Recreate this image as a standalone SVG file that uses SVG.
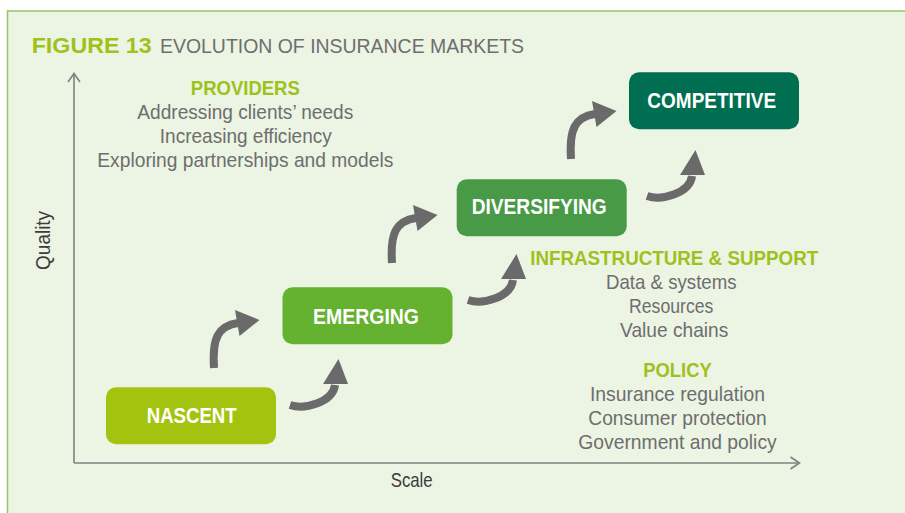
<svg xmlns="http://www.w3.org/2000/svg" width="905" height="513" viewBox="0 0 905 513">
<style>
.txt{font-family:"Liberation Sans",Arial,sans-serif}
.head{font-family:"Liberation Sans",Arial,sans-serif;font-weight:bold;fill:#9dc21b;font-size:21px;text-anchor:middle}
.body{font-family:"Liberation Sans",Arial,sans-serif;fill:#6e6e6e;font-size:21px;text-anchor:middle}
.axislbl{font-family:"Liberation Sans",Arial,sans-serif;fill:#3c3c3c;font-size:21px;text-anchor:middle}
.box text{font-family:"Liberation Sans",Arial,sans-serif;font-weight:bold;fill:#ffffff;font-size:22.5px;text-anchor:middle}
.axis{fill:none;stroke:#808080;stroke-width:1.6}
.shaft{fill:none;stroke:#6a6a6a;stroke-width:8}
.tip{fill:#6a6a6a}
</style>
<defs>
<g id="arrowUp">
<path class="shaft" d="M214,368 C212,338 218,326 238,323"/>
<polygon class="tip" points="235,310 239.5,336 259.5,320"/>
</g>
<g id="arrowLow">
<path class="shaft" d="M290,405 C305,410 333,402 335,385"/>
<polygon class="tip" points="323,384 348,384 338.5,359"/>
</g>
</defs>
<rect x="0" y="0" width="905" height="513" fill="#ffffff"/>
<rect x="7.5" y="11" width="900" height="505" fill="#ecf4e4"/>
<path d="M7.5,513 L7.5,11 L905,11" fill="none" stroke="#92c66a" stroke-width="1.5"/>

<g id="title">
<text class="txt" x="31.7" y="53" font-size="22" font-weight="bold" fill="#9dc21b" textLength="120" lengthAdjust="spacingAndGlyphs">FIGURE 13</text>
<text class="txt" x="160" y="53" font-size="21" fill="#6e6e6e" textLength="364" lengthAdjust="spacingAndGlyphs">EVOLUTION OF INSURANCE MARKETS</text>
</g>

<g id="axes">
<path class="axis" d="M74,463 L74,74"/>
<path class="axis" d="M68,82 L74,73.5 L80,82"/>
<path class="axis" d="M74,463 L799,463"/>
<path class="axis" d="M790.5,457 L799.5,463 L790.5,469"/>
<text class="axislbl" x="411.7" y="486.7" textLength="42" lengthAdjust="spacingAndGlyphs">Scale</text>
<text class="axislbl" transform="translate(50,240.4) rotate(-90)" textLength="59" lengthAdjust="spacingAndGlyphs">Quality</text>
</g>

<g id="providers">
<text class="head" x="245.3" y="95" textLength="109" lengthAdjust="spacingAndGlyphs">PROVIDERS</text>
<text class="body" x="245.3" y="119" textLength="216" lengthAdjust="spacingAndGlyphs">Addressing clients’ needs</text>
<text class="body" x="245.8" y="143" textLength="172" lengthAdjust="spacingAndGlyphs">Increasing efficiency</text>
<text class="body" x="245.3" y="167" textLength="296" lengthAdjust="spacingAndGlyphs">Exploring partnerships and models</text>
</g>

<g id="infrastructure">
<text class="head" x="674.2" y="265" textLength="288" lengthAdjust="spacingAndGlyphs">INFRASTRUCTURE &amp; SUPPORT</text>
<text class="body" x="671.3" y="288.5" textLength="130.7" lengthAdjust="spacingAndGlyphs">Data &amp; systems</text>
<text class="body" x="671.2" y="312.5" textLength="84.3" lengthAdjust="spacingAndGlyphs">Resources</text>
<text class="body" x="674.2" y="336.5" textLength="108.3" lengthAdjust="spacingAndGlyphs">Value chains</text>
</g>

<g id="policy">
<text class="head" x="677.5" y="376.5" textLength="68.4" lengthAdjust="spacingAndGlyphs">POLICY</text>
<text class="body" x="677.5" y="400.5" textLength="175" lengthAdjust="spacingAndGlyphs">Insurance regulation</text>
<text class="body" x="677.5" y="424.5" textLength="178.4" lengthAdjust="spacingAndGlyphs">Consumer protection</text>
<text class="body" x="677.5" y="448.5" textLength="198.4" lengthAdjust="spacingAndGlyphs">Government and policy</text>
</g>

<g id="connectors">
<use href="#arrowUp"/>
<use href="#arrowLow"/>
<use href="#arrowUp" transform="translate(178,-105)"/>
<use href="#arrowLow" transform="translate(178,-105)"/>
<use href="#arrowUp" transform="translate(357,-209)"/>
<use href="#arrowLow" transform="translate(357,-209)"/>
</g>

<g id="nascent" class="box">
<rect x="106" y="387.3" width="170" height="57" rx="10" fill="#a3c40f"/>
<text x="191.7" y="423.3" textLength="90" lengthAdjust="spacingAndGlyphs">NASCENT</text>
</g>
<g id="emerging" class="box">
<rect x="282.5" y="287.3" width="170" height="57" rx="10" fill="#64b22f"/>
<text x="366" y="324" textLength="106" lengthAdjust="spacingAndGlyphs">EMERGING</text>
</g>
<g id="diversifying" class="box">
<rect x="456.7" y="179.3" width="170" height="57" rx="10" fill="#489a47"/>
<text x="539.2" y="214" textLength="135" lengthAdjust="spacingAndGlyphs">DIVERSIFYING</text>
</g>
<g id="competitive" class="box">
<rect x="629" y="72.3" width="170" height="57" rx="10" fill="#006f51"/>
<text x="711.7" y="107.7" textLength="128.7" lengthAdjust="spacingAndGlyphs">COMPETITIVE</text>
</g>
</svg>
